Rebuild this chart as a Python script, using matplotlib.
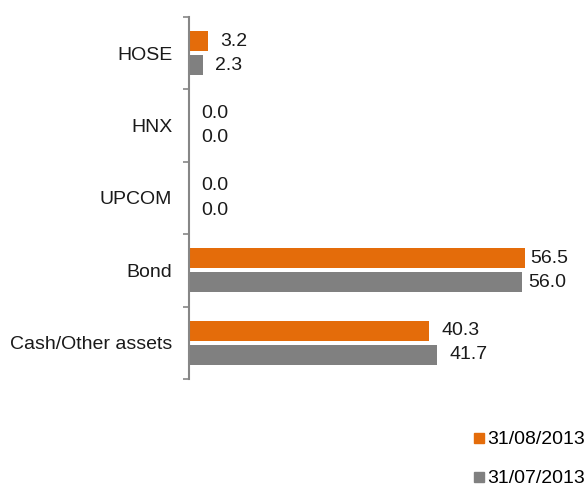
import matplotlib.pyplot as plt
from matplotlib.lines import Line2D

plt.rcParams['font.family'] = ['Liberation Sans', 'DejaVu Sans']

categories = ['HOSE', 'HNX', 'UPCOM', 'Bond', 'Cash/Other assets']
aug_2013 = [3.2, 0.0, 0.0, 56.5, 40.3]
jul_2013 = [2.3, 0.0, 0.0, 56.0, 41.7]
series_labels = ['31/08/2013', '31/07/2013']

orange = '#E46C0A'
grey = '#808080'
fs = 14

W, H = 587, 484
fig = plt.figure(figsize=(W / 100, H / 100), dpi=100)
ax = fig.add_axes([189 / W, (H - 379) / H, 357 / W, (379 - 17) / H])

ypos = list(range(len(categories)))
bh = 0.276
off = 0.166
ax.barh([y - off for y in ypos], aug_2013, height=bh, color=orange)
ax.barh([y + off for y in ypos], jul_2013, height=bh, color=grey)

ax.set_xlim(0, 60)
ax.set_ylim(len(categories) - 0.5, -0.5)

for y, a, j in zip(ypos, aug_2013, jul_2013):
    pad = 4 if a > 50 else 9
    ax.annotate(f'{a:.1f}', (a, y - off), xytext=(pad, 0), textcoords='offset points',
                va='center', ha='left', fontsize=fs, color='#1a1a1a')
    pad = 4 if j > 50 else 9
    ax.annotate(f'{j:.1f}', (j, y + off), xytext=(pad, 0), textcoords='offset points',
                va='center', ha='left', fontsize=fs, color='#1a1a1a')

ax.set_yticks(ypos)
ax.set_yticklabels(categories, fontsize=fs, color='#1a1a1a')
ax.set_yticks([y - 0.5 for y in range(len(categories) + 1)], minor=True)
ax.tick_params(axis='y', which='major', length=0, pad=12)
ax.tick_params(axis='y', which='minor', length=4, width=1.2, color='#868686')
ax.set_xticks([])
for s in ['top', 'right', 'bottom']:
    ax.spines[s].set_visible(False)
ax.spines['left'].set_color('#868686')
ax.spines['left'].set_linewidth(1.5)

handles = [Line2D([], [], marker='s', linestyle='none', markersize=7, color=orange),
           Line2D([], [], marker='s', linestyle='none', markersize=7, color=grey)]
fig.legend(handles, series_labels, loc='upper left', bbox_to_anchor=(463 / W, 1 - 421 / H),
           frameon=False, fontsize=fs, handlelength=0.6, handletextpad=0.15,
           labelspacing=1.1, borderpad=0)

fig.savefig('out.png', dpi=100)
